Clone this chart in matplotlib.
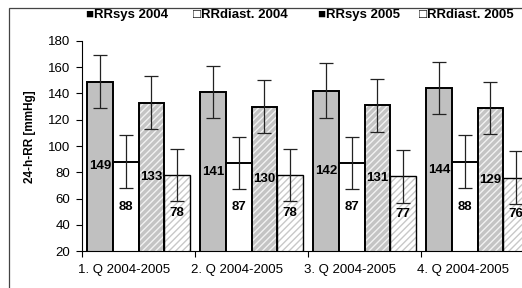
import matplotlib
matplotlib.use("Agg")
import matplotlib.pyplot as plt
from matplotlib.patches import Rectangle
import numpy as np

plt.rcParams['font.family'] = ['Liberation Sans', 'DejaVu Sans']

quarters = ['1. Q 2004-2005', '2. Q 2004-2005', '3. Q 2004-2005', '4. Q 2004-2005']
series_names = ['RRsys 2004', 'RRdiast. 2004', 'RRsys 2005', 'RRdiast. 2005']
sys_2004 = [149, 141, 142, 144]
diast_2004 = [88, 87, 87, 88]
sys_2005 = [133, 130, 131, 129]
diast_2005 = [78, 78, 77, 76]
err_sys_2004 = [20, 20, 21, 20]
err_diast_2004 = [20, 20, 20, 20]
err_sys_2005 = [20, 20, 20, 20]
err_diast_2005 = [20, 20, 20, 20]

W, H = 522, 288
fig = plt.figure(figsize=(W / 100, H / 100), dpi=100)
ax = fig.add_axes([82 / W, 1 - 251.3 / H, 452 / W, (251.3 - 40.7) / H])

x = np.arange(len(quarters))
w = 0.228
offs = [-1.5 * w, -0.5 * w, 0.5 * w, 1.5 * w]
vals = [sys_2004, diast_2004, sys_2005, diast_2005]
errs = [err_sys_2004, err_diast_2004, err_sys_2005, err_diast_2005]

# plain bars
ax.bar(x + offs[0], sys_2004, w, color='#c0c0c0', edgecolor='black', linewidth=1.4, zorder=2)
ax.bar(x + offs[1], diast_2004, w, color='white', edgecolor='black', linewidth=1.4, zorder=2)
# hatched bars: fill + hatch first, outline on top
ax.bar(x + offs[2], sys_2005, w, color='#c4c4c4', edgecolor='#f2f2f2', hatch='/////', linewidth=0, zorder=2)
ax.bar(x + offs[2], sys_2005, w, fill=False, edgecolor='black', linewidth=1.4, zorder=2.1)
ax.bar(x + offs[3], diast_2005, w, color='white', edgecolor='#c8c8c8', hatch='/////', linewidth=0, zorder=2)
ax.bar(x + offs[3], diast_2005, w, fill=False, edgecolor='black', linewidth=1.0, zorder=2.1)

for o, v, e in zip(offs, vals, errs):
    ax.errorbar(x + o, v, yerr=e, fmt='none', ecolor='#222222', elinewidth=0.9,
                capsize=5, capthick=0.9, zorder=3)
    for xi, vi in zip(x + o, v):
        ax.text(xi, (vi + 20) / 2, str(vi), ha='center', va='center',
                fontsize=9.5, fontweight='bold', zorder=4)

ax.set_xlim(-0.5, 3.5)
ax.set_ylim(20, 180)
ax.set_yticks(range(20, 181, 20))
ax.tick_params(axis='y', direction='out', length=4.5, width=0.8, pad=4, labelsize=9.5)
ax.set_xticks(np.arange(-0.5, 4.0, 1.0))
ax.set_xticklabels([])
ax.tick_params(axis='x', which='major', direction='out', length=4, width=0.8)
# category labels sit just right of each category boundary, as in the source
for xi, q in zip(x, quarters):
    ax.text(xi - 0.5 - 4 / 113, -19.2 / 210.6, q, transform=ax.get_xaxis_transform(),
            ha='left', va='center', fontsize=9.5)
for s in ['top', 'right']:
    ax.spines[s].set_visible(False)
for s in ['left', 'bottom']:
    ax.spines[s].set_linewidth(0.8)

fig.text(30 / W, 1 - 137 / H, '24-h-RR [mmHg]', rotation=90, ha='center', va='center',
         fontsize=8.5, fontweight='bold')

# legend row along the top
leg_x = [86, 193, 318, 419]
markers = ['\u25a0', '\u25a1', '\u25a0', '\u25a1']
for lx, m, name in zip(leg_x, markers, series_names):
    fig.text(lx / W, 1 - 15 / H, m + name, ha='left', va='center', fontsize=9.5,
             fontweight='bold', family=['Liberation Sans', 'DejaVu Sans'])

# chart area frame, cut off at right and bottom
fig.patches.append(Rectangle((9 / W, -0.1), 1.2, 1.1 - 7.5 / H, transform=fig.transFigure,
                             fill=False, edgecolor='#444444', linewidth=0.9))

fig.savefig('out.png', dpi=100)
